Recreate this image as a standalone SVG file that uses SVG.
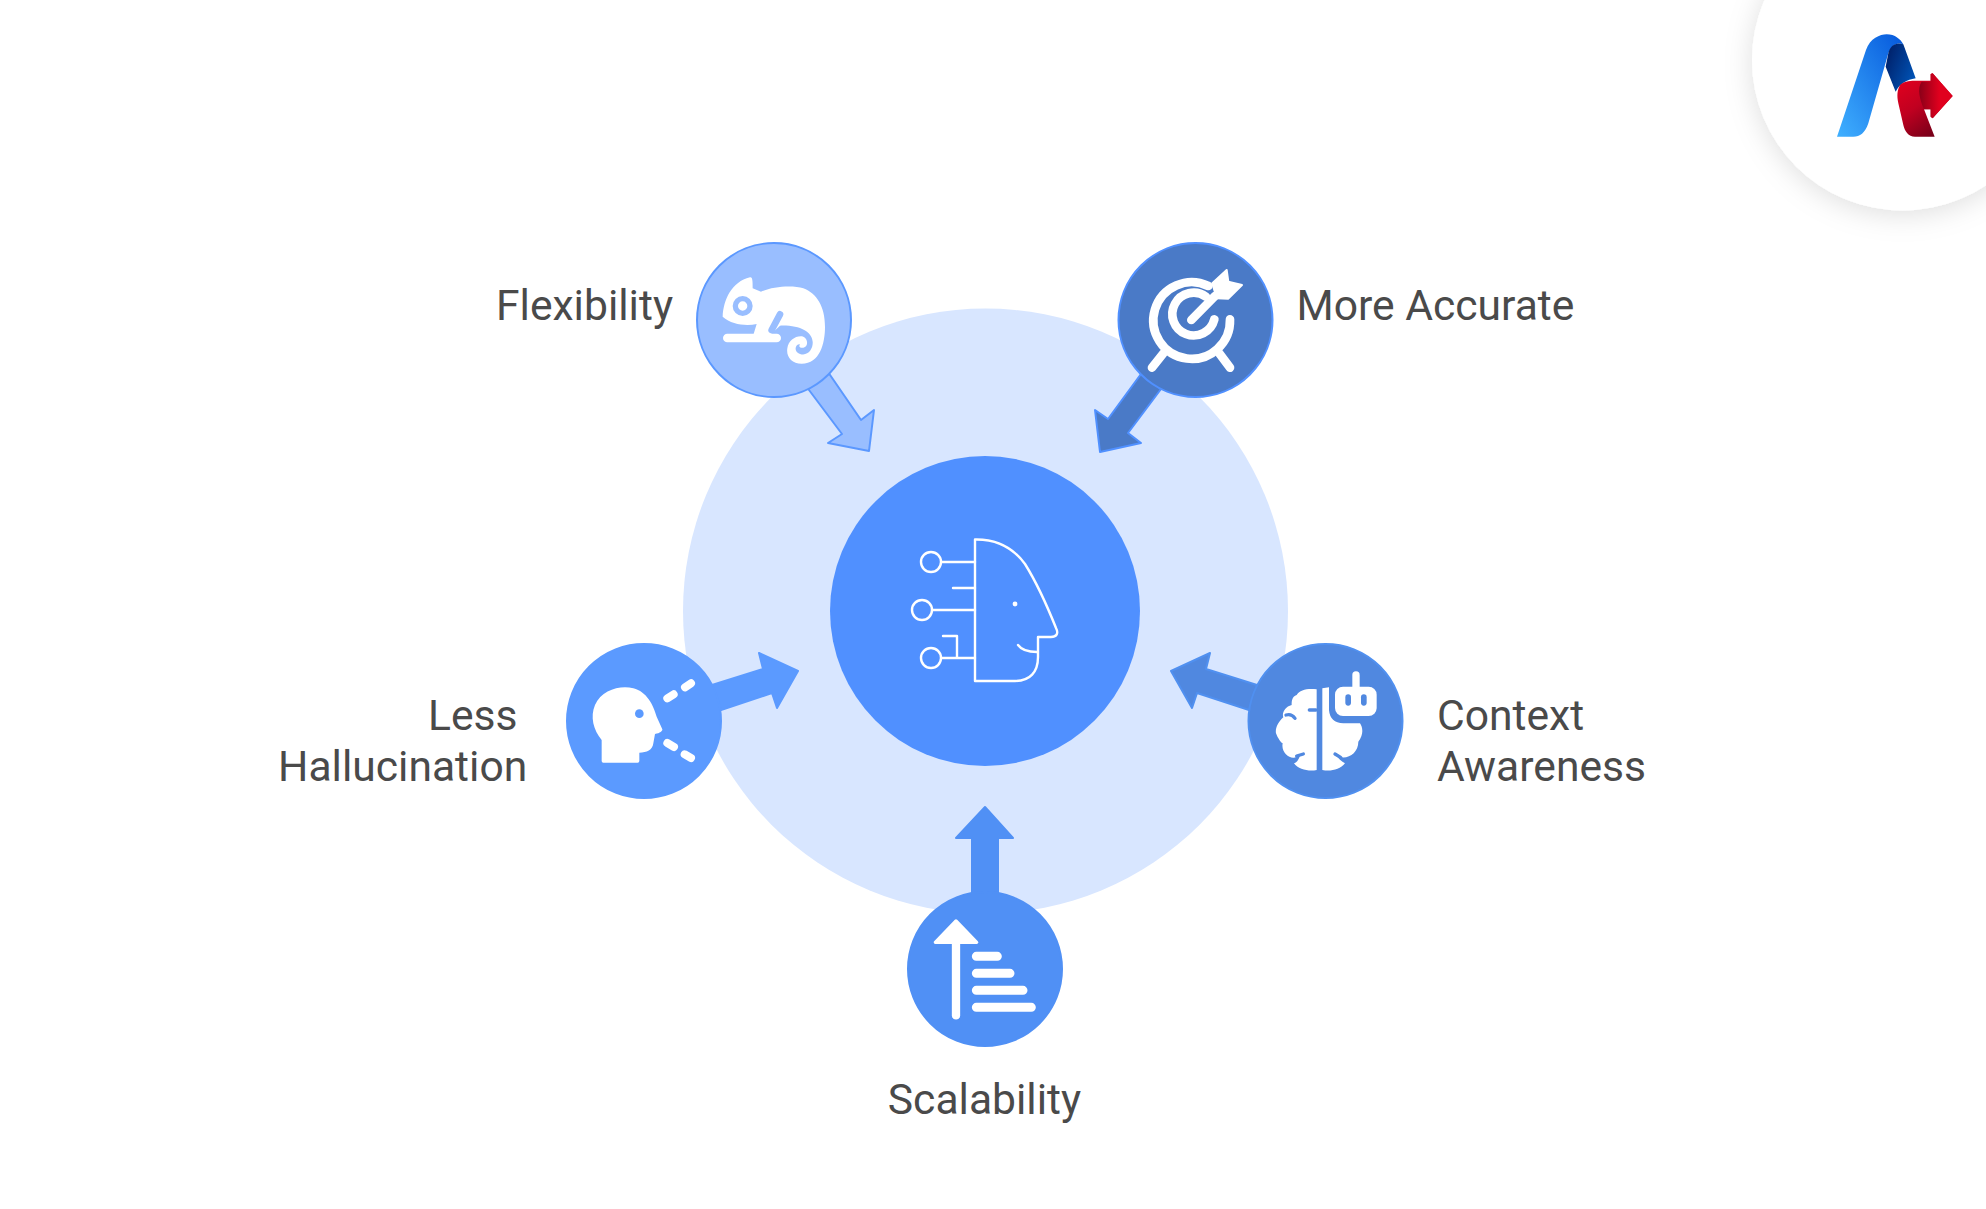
<svg xmlns="http://www.w3.org/2000/svg" width="1986" height="1209" viewBox="0 0 1986 1209">
<style>
.t{font-family:Roboto,"Liberation Sans",sans-serif;font-size:42.6px;fill:#4a4a4a}
.w{fill:#fff}
.ws{fill:none;stroke:#fff;stroke-linecap:round;stroke-linejoin:round}
.node{stroke-width:2}
</style>
<defs>
<filter id="sh" x="-30%" y="-30%" width="160%" height="160%"><feDropShadow dx="0" dy="4" stdDeviation="14" flood-color="#000" flood-opacity=".13"/></filter>
<linearGradient id="lb" x1="0" y1="1" x2="1" y2="0"><stop offset="0" stop-color="#40B0FF"/><stop offset="1" stop-color="#0558DC"/></linearGradient>
<linearGradient id="ld" x1="0" y1="0" x2="1" y2=".6"><stop offset="0" stop-color="#001A60"/><stop offset="1" stop-color="#0052B4"/></linearGradient>
<linearGradient id="lr" x1=".2" y1="0" x2=".8" y2="1"><stop offset="0" stop-color="#E2001E"/><stop offset=".45" stop-color="#C00020"/><stop offset="1" stop-color="#6A0018"/></linearGradient>
<linearGradient id="la" x1="0" y1="0" x2="1" y2="0"><stop offset="0" stop-color="#8A0018"/><stop offset=".6" stop-color="#E0001E"/><stop offset="1" stop-color="#E0001E"/></linearGradient>
</defs>
<rect width="1986" height="1209" fill="#fff"/>
<g id="logo">
<circle cx="1902.5" cy="60" r="150.5" fill="#fff" filter="url(#sh)"/>
<g transform="translate(1740 0) scale(.33333)">
<path d="M291 410L378 150C390 115 420 103 440 103C465 103 482 118 490 133C470 125 455 135 445 160L385 370C375 400 360 410 340 410Z" fill="url(#lb)"/>
<path d="M437 200L445 160C450 135 470 125 490 133L527 235C500 240 480 250 467 275Z" fill="url(#ld)"/>
<path d="M480 255C490 245 505 242 525 242H572V222L578 220L638 288L578 355L572 350V328H552L584 410H525C505 410 495 395 490 375L475 310C470 285 472 270 480 255Z" fill="url(#lr)"/>
<path d="M545 245H572V222L578 220L638 288L578 355L572 350V328H552C540 300 530 265 545 245Z" fill="url(#la)"/>
</g>
</g>
<circle id="backdrop" cx="985.5" cy="611" r="302.5" fill="#D8E6FF"/>
<g id="connectors" stroke-width="2" stroke-linejoin="round">
<path d="M828 372L861 420L874 410L869 451L828 443L842 434L806 386Z" fill="#99BEFF" stroke="#5B98FF"/>
<path d="M1141 374L1108 419L1095 410L1100 452L1141 443L1128 433L1161 389Z" fill="#4A7AC7" stroke="#5090FF"/>
<path d="M712 685L763 669L759 653L798 671L777 708L772 693L721 710Z" fill="#5B9AFF" stroke="#5B9AFF"/>
<path d="M1257 685L1206 669L1210 653L1171 671L1192 708L1197 693L1249 710Z" fill="#5088E0" stroke="#5090F0"/>
<path d="M972 895V838H956L985 807L1013 838H998V895Z" fill="#5090F5" stroke="#5090F5"/>
</g>
<g id="center">
<circle cx="985" cy="611" r="155" fill="#5090FF"/>
<g class="ws" stroke-width="2.4">
<path d="M975 539.5C998 539 1014 549 1025 564C1035 580 1048 608 1056 628C1059 634 1056 637 1051 637H1038V657C1038 672 1030 681 1015 681H975Z"/>
<path d="M1018 645Q1023 652 1037 652"/>
<circle cx="931" cy="562" r="10"/><circle cx="922" cy="610" r="10"/><circle cx="931" cy="658" r="10"/>
<path d="M942 562H975M953 588H975M933 610H975M942 658H975M943 636H957V658"/>
</g>
<circle cx="1015" cy="604" r="2.4" class="w"/>
</g>
<g id="flexibility">
<circle class="node" cx="774" cy="320" r="77" fill="#99BEFF" stroke="#5B98FF"/>
<g transform="translate(660 220) scale(.33333)">
<path class="w" d="M188 290C190 240 215 185 270 172C278 170 278 185 278 205L303 215C340 198 400 195 430 205C470 220 495 260 495 320C495 370 480 431 425 431C395 431 378 410 382 385C385 360 410 345 430 350C445 357 445 380 430 383C420 385 415 380 420 373C405 372 400 395 420 402C445 410 460 385 458 365C455 335 420 315 360 317L330 345H280L290 312C260 318 215 315 188 290Z"/>
<path d="M360 283L335 330" stroke="#99BEFF" stroke-width="20" stroke-linecap="round"/>
<path class="ws" stroke-width="26" d="M202 354H350"/>
<circle cx="248" cy="258" r="22" fill="none" stroke="#99BEFF" stroke-width="16"/>
</g>
<text class="t" x="496" y="320">Flexibility</text>
</g>
<g id="more-accurate">
<circle class="node" cx="1195.5" cy="320" r="77" fill="#4A7AC7" stroke="#5090FF"/>
<g transform="translate(1080 220) scale(.33333)">
<g class="ws" stroke-width="26">
<path d="M385 198A115 115 0 1 0 450 298"/>
<path d="M378 230A64 64 0 1 0 403 298"/>
<path d="M334 300L405 228M250 400L216 443M418 400L450 443"/>
</g>
<path class="w" stroke="#fff" stroke-width="6" stroke-linejoin="round" d="M397 190L440 150L445 185L486 195L445 236L410 235Z"/>
</g>
<text class="t" x="1296.5" y="320">More Accurate</text>
</g>
<g id="less-hallucination">
<circle class="node" cx="644" cy="721" r="77" fill="#5B9AFF" stroke="#5B9AFF"/>
<g transform="translate(550 630) scale(.33333)">
<path class="w" d="M155 393V330C130 300 120 260 135 225C155 180 210 165 250 175C290 185 310 225 320 260L337 298C338 303 330 310 315 312L310 340C308 360 290 368 268 368V393Q268 398 263 398H160Q155 398 155 393Z"/>
<circle cx="268" cy="251" r="13" fill="#5B9AFF"/>
<path class="ws" stroke-width="24" d="M352 205L371 193M405 172L423 160M352 339L372 351M404 373L423 384"/>
</g>
<text class="t" x="428" y="730">Less</text>
<text class="t" x="278" y="781">Hallucination</text>
</g>
<g id="context-awareness">
<circle class="node" cx="1325.5" cy="721" r="77" fill="#5088E0" stroke="#5090F0"/>
<g transform="translate(1150 630) scale(.33333)">
<path class="w" d="M500 178C470 175 450 180 440 195C425 200 425 215 425 225C405 230 395 250 400 262C385 275 375 295 378 310C383 325 395 340 398 340C393 365 415 385 432 383L450 378C445 390 440 398 432 400C445 420 480 425 500 420Z"/>
<path class="w" d="M517 420V175L537 172V240Q540 278 580 280H630C640 295 640 315 625 335C625 365 600 385 575 382L555 372C565 385 575 395 585 400C570 420 540 425 517 420Z"/>
<path d="M408 255Q425 250 435 265M498 240H478M440 378L460 372M555 372L572 382" fill="none" stroke="#5088E0" stroke-width="10" stroke-linecap="round"/>
<rect class="w" x="555" y="170" width="125" height="88" rx="24"/>
<path class="ws" stroke-width="22" d="M618 135V175"/>
<rect x="586" y="193" width="17" height="34" rx="8.5" fill="#5088E0"/>
<rect x="633" y="193" width="17" height="34" rx="8.5" fill="#5088E0"/>
</g>
<text class="t" x="1437" y="730">Context</text>
<text class="t" x="1437" y="781">Awareness</text>
</g>
<g id="scalability">
<circle class="node" cx="985" cy="969" r="77" fill="#5090F5" stroke="#5090F5"/>
<g transform="translate(890 790) scale(.33333)">
<path class="w" stroke="#fff" stroke-width="10" stroke-linejoin="round" d="M198 393L260 457H136Z"/>
<path class="ws" stroke-width="25" d="M198 458V676"/>
<path class="ws" stroke-width="27" d="M259 499H322M259 550H360M259 601H399M259 652H424"/>
</g>
<text class="t" x="984.5" y="1114" text-anchor="middle">Scalability</text>
</g>
</svg>
